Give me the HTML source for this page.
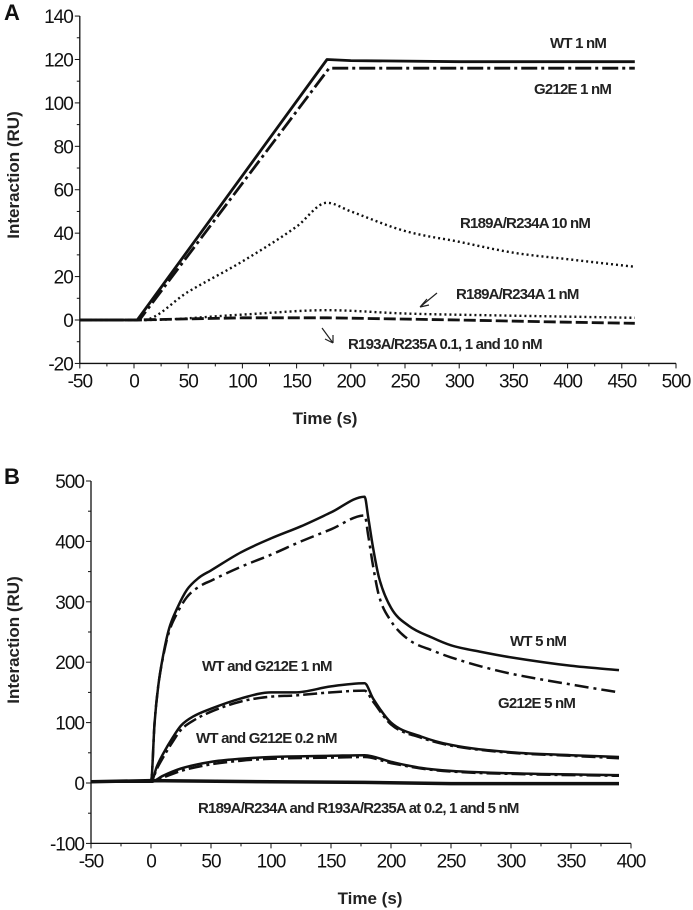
<!DOCTYPE html>
<html><head><meta charset="utf-8"><style>
html,body{margin:0;padding:0;background:#fff;}
svg{display:block;font-family:"Liberation Sans Narrow","Liberation Sans",sans-serif;}
.tk{font-size:19px;fill:#111;letter-spacing:-1px;}
.lb{font-size:15px;font-weight:bold;fill:#222;letter-spacing:-0.8px;}
.at{font-size:17px;font-weight:bold;fill:#222;}
</style></head><body>
<svg id="chart" width="693" height="910" viewBox="0 0 693 910">
<text x="4" y="20" font-size="22" font-weight="bold" fill="#111">A</text>
<text x="4" y="484" font-size="22" font-weight="bold" fill="#111">B</text>
<g id="pa"></g>
<g id="pb"></g>
<text class="at" x="325" y="424" text-anchor="middle">Time (s)</text>
<text class="at" x="19" y="175" text-anchor="middle" transform="rotate(-90 19 175)">Interaction  (RU)</text>
<text class="at" x="370" y="904" text-anchor="middle">Time (s)</text>
<text class="at" x="19" y="640" text-anchor="middle" transform="rotate(-90 19 640)">Interaction  (RU)</text>
<text class="lb" x="550" y="48">WT 1 nM</text>
<text class="lb" x="534" y="94">G212E 1 nM</text>
<text class="lb" x="460" y="228">R189A/R234A 10 nM</text>
<text class="lb" x="456" y="299">R189A/R234A 1 nM</text>
<text class="lb" x="348" y="349">R193A/R235A 0.1, 1 and 10 nM</text>
<path d="M437 293 L420 307 M420 307 L427 299 M420 307 L429 305" stroke="#222" stroke-width="1.2" fill="none"/>
<path d="M322 328 L333 343 M333 343 L325 339 M333 343 L333 335" stroke="#222" stroke-width="1.2" fill="none"/>
<text class="lb" x="510" y="646">WT 5 nM</text>
<text class="lb" x="498" y="708">G212E 5 nM</text>
<text class="lb" x="202" y="671">WT and G212E 1 nM</text>
<text class="lb" x="196" y="743">WT and G212E 0.2 nM</text>
<text class="lb" x="198" y="813">R189A/R234A and R193A/R235A at 0.2, 1 and 5 nM</text>
</svg>
<script>
// Panel A data
const aXTicks=[-50,0,50,100,150,200,250,300,350,400,450,500];
const aYTicks=[-20,0,20,40,60,80,100,120,140];
const aWT_t=[-50,3,178,200,300,400,462];
const aWT_v=[0,0,120,119.5,119,119,119];
const aG_t=[-50,5,180,200,300,400,462];
const aG_v=[0,0,116,116,116,116,116];
const aR10_t=[-50,8,50,100,150,178,200,250,300,350,400,462];
const aR10_v=[0,0,13,27,43,54,50,41,36,31,28,24.5];
const aR1_t=[-50,10,100,178,250,350,462];
const aR1_v=[0,0,2.5,4.5,3,2,1];
const aR193_t=[-50,0,100,178,300,400,462];
const aR193_v=[0,0,1,1,0,-1,-1.5];
// Panel B data
const bXTicks=[-50,0,50,100,150,200,250,300,350,400];
const bYTicks=[-100,0,100,200,300,400,500];
const bWT5_t=[-50,0,3,6,10,15,22,30,40,50,75,100,125,150,178,181,185,190,200,215,235,250,275,300,350,390];
const bWT5_v=[2,2,100,160,210,255,290,320,340,352,382,405,425,448,474,440,390,340,290,260,240,228,217,208,194,187];
const bG5_t=[-50,0,3,6,10,15,22,30,40,50,75,100,125,150,178,181,185,190,200,215,235,250,275,300,350,390];
const bG5_v=[2,2,100,160,208,250,282,308,325,335,358,378,400,420,443,410,360,310,268,237,219,208,193,181,163,150];
const bWT1_t=[-50,0,5,10,18,25,35,50,75,100,120,150,178,185,200,225,250,300,350,390];
const bWT1_v=[2,2,28,48,75,95,110,123,140,150,150,160,165,140,100,77,63,51,46,43];
const bG1_t=[-50,0,5,10,18,25,35,50,75,100,120,150,178,185,200,225,250,300,350,390];
const bG1_v=[2,2,24,42,68,88,103,118,135,143,145,150,153,135,97,75,62,50,45,41];
const bWT02_t=[-50,0,10,25,50,75,100,150,178,200,225,250,300,390];
const bWT02_v=[2,2,12,24,35,40,43,45,46,35,25,20,16,13];
const bG02_t=[-50,0,10,25,50,75,100,150,178,200,225,250,300,390];
const bG02_v=[2,2,9,20,31,37,40,42,43,33,24,19,15,12];
const bZ_t=[-50,0,100,178,250,390];
const bZ_v=[2,4,2,1,-1,-1];

const NS="http://www.w3.org/2000/svg";
function mk(parent,tag,attrs){const e=document.createElementNS(NS,tag);for(const k in attrs)e.setAttribute(k,attrs[k]);parent.appendChild(e);return e;}

function axes(g,sx,sy,xt,yt,x0,x1,y0,y1,pfx){
  const ax=mk(g,'line',{x1:sx(x0),y1:sy(y0),x2:sx(x0),y2:sy(y1),stroke:'#111','stroke-width':1.3});
  
  
  const bx=mk(g,'line',{x1:sx(x0),y1:sy(y0),x2:sx(x1),y2:sy(y0),stroke:'#111','stroke-width':1.3});
  
  
  xt.forEach((v,i)=>{
    mk(g,'line',{x1:sx(v),y1:sy(y0),x2:sx(v),y2:sy(y0)+5,stroke:'#111'});
    if(i<xt.length-1)mk(g,'line',{x1:sx(v+(xt[1]-xt[0])/2),y1:sy(y0),x2:sx(v+(xt[1]-xt[0])/2),y2:sy(y0)+3,stroke:'#111'});
    const t=mk(g,'text',{x:sx(v),y:sy(y0)+24,'text-anchor':'middle',class:'tk'});
    t.textContent=v;
    
    
  });
  yt.forEach((v,i)=>{
    mk(g,'line',{x1:sx(x0),y1:sy(v),x2:sx(x0)-5,y2:sy(v),stroke:'#111'});
    if(i<yt.length-1)mk(g,'line',{x1:sx(x0),y1:sy(v+(yt[1]-yt[0])/2),x2:sx(x0)-3,y2:sy(v+(yt[1]-yt[0])/2),stroke:'#111'});
    const t=mk(g,'text',{x:sx(x0)-7,y:sy(v)+7,'text-anchor':'end',class:'tk'});
    t.textContent=v;
    
    
  });
}
// monotone cubic (Fritsch-Carlson) path in pixel space
function monoPath(xs,ys){
  const n=xs.length;if(n<3){return 'M'+xs.map((x,i)=>x.toFixed(1)+' '+ys[i].toFixed(1)).join('L');}
  const d=[],m=new Array(n);
  for(let i=0;i<n-1;i++)d.push((ys[i+1]-ys[i])/(xs[i+1]-xs[i]));
  m[0]=d[0];m[n-1]=d[n-2];
  for(let i=1;i<n-1;i++){m[i]=(d[i-1]*d[i]<=0)?0:(d[i-1]+d[i])/2;}
  for(let i=0;i<n-1;i++){
    if(d[i]===0){m[i]=0;m[i+1]=0;continue;}
    const a=m[i]/d[i],b=m[i+1]/d[i],s=a*a+b*b;
    if(s>9){const t=3/Math.sqrt(s);m[i]=t*a*d[i];m[i+1]=t*b*d[i];}
  }
  let p='M'+xs[0].toFixed(1)+' '+ys[0].toFixed(1);
  for(let i=0;i<n-1;i++){
    const h=(xs[i+1]-xs[i])/3;
    p+='C'+(xs[i]+h).toFixed(1)+' '+(ys[i]+m[i]*h).toFixed(1)+' '+(xs[i+1]-h).toFixed(1)+' '+(ys[i+1]-m[i+1]*h).toFixed(1)+' '+xs[i+1].toFixed(1)+' '+ys[i+1].toFixed(1);
  }
  return p;
}
function series(g,sx,sy,ts,vs,dash,w,name,smooth){
  let d;
  if(smooth){d=monoPath(ts.map(sx),vs.map(sy));}
  else{d='';ts.forEach((t,i)=>{d+=(i?'L':'M')+sx(t).toFixed(1)+' '+sy(vs[i]).toFixed(1);});}
  const p=mk(g,'path',{d:d,fill:'none',stroke:'#111','stroke-width':w,'stroke-dasharray':dash,'stroke-linejoin':'round'});
  
  
}
// Panel A scales
const ga=document.getElementById('pa');
const axX=t=>134+(t)*1.084, ayY=v=>320-v*2.171;
axes(ga,axX,ayY,aXTicks,aYTicks,-50,500,-20,140,'panel-a');
series(ga,axX,ayY,aR10_t,aR10_v,'2 3',2.4,'series-r189a-10nm',true);
series(ga,axX,ayY,aR1_t,aR1_v,'2 3',2.4,'series-r189a-1nm',true);
series(ga,axX,ayY,aR193_t,aR193_v,'12 4',2.8,'series-r193a',false);
series(ga,axX,ayY,aG_t,aG_v,'16 4 3 4',2.8,'series-g212e-1nm',false);
series(ga,axX,ayY,aWT_t,aWT_v,'',2.8,'series-wt-1nm',false);
// Panel B scales
const gb=document.getElementById('pb');
const bxX=t=>151+t*1.2, byY=v=>783-v*0.604;
axes(gb,bxX,byY,bXTicks,bYTicks,-50,400,-100,500,'panel-b');
series(gb,bxX,byY,bZ_t,bZ_v,'',3.5,'series-mutants-b',false);
series(gb,bxX,byY,bG02_t,bG02_v,'14 4 3 4',2.5,'series-g212e-02nm',true);
series(gb,bxX,byY,bWT02_t,bWT02_v,'',2.5,'series-wt-02nm',true);
series(gb,bxX,byY,bG1_t,bG1_v,'14 4 3 4',2.5,'series-g212e-1nm',true);
series(gb,bxX,byY,bWT1_t,bWT1_v,'',2.5,'series-wt-1nm',true);
series(gb,bxX,byY,bG5_t,bG5_v,'14 5 3 5',2.5,'series-g212e-5nm',true);
series(gb,bxX,byY,bWT5_t,bWT5_v,'',2.5,'series-wt-5nm',true);
</script>
</body></html>
